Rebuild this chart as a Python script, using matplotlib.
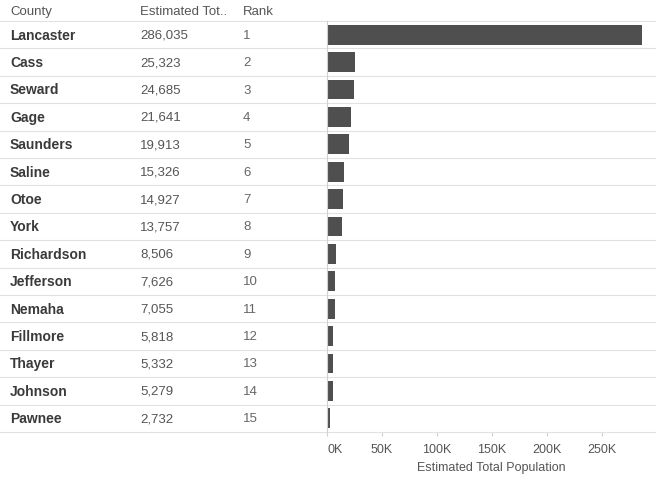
import matplotlib
matplotlib.use("Agg")
from matplotlib import pyplot as plt
from matplotlib.transforms import blended_transform_factory

plt.rcParams['font.family'] = ['Liberation Sans', 'DejaVu Sans']

counties = ["Lancaster", "Cass", "Seward", "Gage", "Saunders", "Saline", "Otoe", "York",
            "Richardson", "Jefferson", "Nemaha", "Fillmore", "Thayer", "Johnson", "Pawnee"]
population = [286035, 25323, 24685, 21641, 19913, 15326, 14927, 13757,
              8506, 7626, 7055, 5818, 5332, 5279, 2732]
ranks = list(range(1, 16))
ticks = [0, 50000, 100000, 150000, 200000, 250000]
tick_labels = ["0K", "50K", "100K", "150K", "200K", "250K"]

W, H = 656, 481
fig = plt.figure(figsize=(W / 100, H / 100), dpi=100)
ax_left, ax_top, ax_bot = 327, 22, 433
ax = fig.add_axes([ax_left / W, 1 - ax_bot / H, (W - ax_left) / W, (ax_bot - ax_top) / H])

n = len(counties)
ypos = list(range(n))
ax.barh(ypos, population, height=0.72, color="#4f4f4f", edgecolor="none")
ax.set_ylim(n - 0.5, -0.5)
ax.set_xlim(0, (W - ax_left) / 55 * 50000)

for s in ["top", "right", "bottom"]:
    ax.spines[s].set_visible(False)
ax.spines["left"].set_color("#d0d0d0")
ax.spines["left"].set_linewidth(0.8)
ax.set_yticks([])
ax.set_xticks(ticks)
ax.set_xticklabels(tick_labels, fontsize=9, color="#555555")
ax.get_xticklabels()[0].set_horizontalalignment("left")
ax.tick_params(axis="x", length=3, color="#d0d0d0", pad=5)
ax.set_xlabel("Estimated Total Population", fontsize=9, color="#555555", labelpad=4)

tr = blended_transform_factory(fig.transFigure, ax.transData)
# row separators
for k in range(n + 1):
    ax.plot([0, 1], [k - 0.5, k - 0.5], transform=tr, color="#e2e2e2", lw=0.8, clip_on=False)

# header
hdr_y = 1 - 12 / H
fig.text(10 / W, hdr_y, "County", fontsize=9.5, color="#555555", va="center")
fig.text(140 / W, hdr_y, "Estimated Tot..", fontsize=9.5, color="#555555", va="center")
fig.text(243 / W, hdr_y, "Rank", fontsize=9.5, color="#555555", va="center")

for i in range(n):
    ax.text(10 / W, i, counties[i], transform=tr, fontsize=10, fontweight="bold",
            color="#3a3a3a", va="center")
    ax.text(140 / W, i, f"{population[i]:,}", transform=tr, fontsize=9.5,
            color="#555555", va="center")
    ax.text(243 / W, i, str(ranks[i]), transform=tr, fontsize=9.5,
            color="#666666", va="center")

fig.savefig("out.png", dpi=100)
